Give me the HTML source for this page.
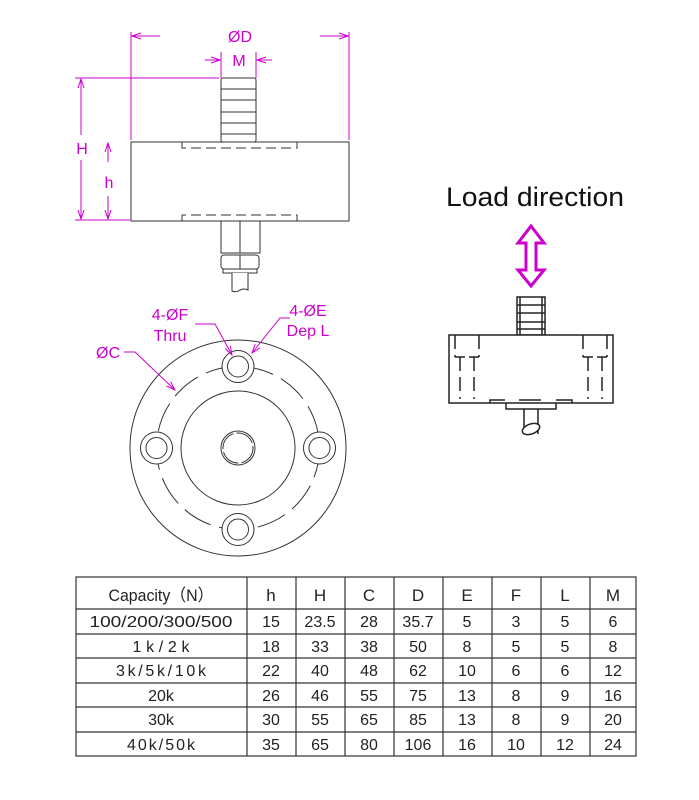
<!DOCTYPE html>
<html><head><meta charset="utf-8"><style>
html,body{margin:0;padding:0;background:#fff;}
svg{display:block;}
text{font-family:"Liberation Sans",Arial,sans-serif;}
</style></head><body>
<svg width="699" height="800" viewBox="0 0 699 800" xmlns="http://www.w3.org/2000/svg">
<defs>
<marker id="a" markerWidth="10" markerHeight="8" refX="9" refY="4" orient="auto" markerUnits="userSpaceOnUse"><path d="M0,1 L9,4 L0,7" fill="none" stroke="#c0c" stroke-width="1"/></marker>
</defs>
<g stroke="#c0c" stroke-width="1" fill="none">
<line x1="131" y1="32" x2="131" y2="140"/>
<line x1="349" y1="32" x2="349" y2="140"/>
<line x1="160" y1="36" x2="132" y2="36" marker-end="url(#a)"/>
<line x1="320" y1="36" x2="348" y2="36" marker-end="url(#a)"/>
<line x1="221" y1="52" x2="221" y2="78"/>
<line x1="256" y1="52" x2="256" y2="78"/>
<line x1="205" y1="60" x2="220" y2="60" marker-end="url(#a)"/>
<line x1="272" y1="60" x2="257" y2="60" marker-end="url(#a)"/>
<line x1="75" y1="78" x2="219" y2="78"/>
<line x1="75" y1="220" x2="130" y2="220"/>
<line x1="81" y1="135" x2="81" y2="79" marker-end="url(#a)"/>
<line x1="81" y1="160" x2="81" y2="219" marker-end="url(#a)"/>
<line x1="108" y1="162" x2="108" y2="143" marker-end="url(#a)"/>
<line x1="108" y1="196" x2="108" y2="219" marker-end="url(#a)"/>
</g>
<g fill="#c0c" font-size="16" text-anchor="middle">
<text x="240" y="42">ØD</text>
<text x="239" y="66">M</text>
<text x="82" y="154">H</text>
<text x="109" y="188">h</text>
</g>
<g stroke="#333" stroke-width="1" fill="#fff">
<rect x="221" y="78" width="35" height="64" rx="2"/>
<line x1="221" y1="89" x2="256" y2="89"/>
<line x1="221" y1="100" x2="256" y2="100"/>
<line x1="221" y1="112" x2="256" y2="112"/>
<line x1="221" y1="123" x2="256" y2="123"/>
<line x1="221" y1="134" x2="256" y2="134"/>
<rect x="131" y="142" width="218" height="79"/>
<path d="M182,142 v6 h115 v-6" stroke-dasharray="10,5" fill="none"/>
<path d="M182,221 v-6 h115 v6" stroke-dasharray="10,5" fill="none"/>
<rect x="221" y="221" width="39" height="32"/>
<line x1="240" y1="221" x2="240" y2="253"/>
<rect x="221" y="255" width="38" height="14" rx="3"/>
<line x1="240" y1="255" x2="240" y2="269"/>
<rect x="223" y="269" width="34" height="4"/>
<path d="M232,273 V291 q4,2 8,-1 q4,-2 8,0 V273" fill="#fff"/>
</g>
<g stroke="#333" stroke-width="1" fill="none">
<circle cx="238" cy="448" r="108"/>
<circle cx="238" cy="448" r="81.5" stroke-dasharray="30,9"/>
<circle cx="238" cy="448" r="57"/>
<circle cx="238" cy="448" r="17"/>
<circle cx="238" cy="448" r="15" stroke-dasharray="20,3"/>
<g fill="#fff">
<circle cx="238" cy="366.5" r="16"/><circle cx="238" cy="366.5" r="10.5"/>
<circle cx="238" cy="529.5" r="16"/><circle cx="238" cy="529.5" r="10.5"/>
<circle cx="156.5" cy="448" r="16"/><circle cx="156.5" cy="448" r="10.5"/>
<circle cx="319.5" cy="448" r="16"/><circle cx="319.5" cy="448" r="10.5"/>
</g>
</g>
<g stroke="#c0c" stroke-width="1" fill="none">
<path d="M124,352 H135 L175,390" marker-end="url(#a)"/>
<path d="M195,324 H215 L232,355" marker-end="url(#a)"/>
<path d="M290,318 H280 L252,353" marker-end="url(#a)"/>
</g>
<g fill="#c0c" font-size="16" text-anchor="middle">
<text x="170" y="320">4-ØF</text>
<text x="170" y="341">Thru</text>
<text x="308" y="316">4-ØE</text>
<text x="308" y="336">Dep L</text>
<text x="108" y="358">ØC</text>
</g>
<text x="535" y="206" font-size="27" text-anchor="middle" fill="#111" textLength="178" lengthAdjust="spacingAndGlyphs">Load direction</text>
<path d="M531,226 L544,243 H536 V270 H544 L531,286 L518,270 H526 V243 H518 Z" fill="none" stroke="#c0c" stroke-width="3" stroke-linejoin="miter"/>
<g stroke="#222" stroke-width="1.5" fill="none">
<rect x="517" y="297" width="28" height="38"/>
<line x1="520" y1="297" x2="520" y2="335"/><line x1="542" y1="297" x2="542" y2="335"/>
<line x1="517" y1="305" x2="545" y2="305"/><line x1="517" y1="313" x2="545" y2="313"/><line x1="517" y1="322" x2="545" y2="322"/><line x1="517" y1="329" x2="545" y2="329"/>
<rect x="449" y="335" width="164" height="68" fill="#fff"/>
<path d="M455,335 v22 M479,335 v22 M455,357 h10 M469,357 h10 M460,357 v42 M474,357 v42" stroke-dasharray="14,6"/>
<path d="M607,335 v22 M583,335 v22 M607,357 h-10 M593,357 h-10 M602,357 v42 M588,357 v42" stroke-dasharray="14,6"/>
<path d="M490,403 v-3 h15 M519,400 h22 M556,400 h16 v3"/>
<path d="M506,403 v6 h50 v-6"/>
<path d="M524,409 v25 M538,409 v25"/>
<ellipse cx="531" cy="429" rx="9" ry="5" transform="rotate(-20 531 429)" fill="#fff"/>
</g>
<g stroke="#333" stroke-width="1.2" fill="none">
<rect x="76" y="577" width="560" height="179"/>
<line x1="76" y1="609" x2="636" y2="609"/>
<line x1="76" y1="634" x2="636" y2="634"/>
<line x1="76" y1="658" x2="636" y2="658"/>
<line x1="76" y1="683" x2="636" y2="683"/>
<line x1="76" y1="707" x2="636" y2="707"/>
<line x1="76" y1="732" x2="636" y2="732"/>
<line x1="247" y1="577" x2="247" y2="756"/>
<line x1="296" y1="577" x2="296" y2="756"/>
<line x1="345" y1="577" x2="345" y2="756"/>
<line x1="394" y1="577" x2="394" y2="756"/>
<line x1="443" y1="577" x2="443" y2="756"/>
<line x1="492" y1="577" x2="492" y2="756"/>
<line x1="541" y1="577" x2="541" y2="756"/>
<line x1="590" y1="577" x2="590" y2="756"/>
</g>
<g font-size="17" fill="#222" text-anchor="middle">
<text x="161" y="601" textLength="105" lengthAdjust="spacingAndGlyphs">Capacity（N）</text><text x="271" y="601">h</text><text x="320" y="601">H</text><text x="369" y="601">C</text><text x="418" y="601">D</text><text x="467" y="601">E</text><text x="516" y="601">F</text><text x="565" y="601">L</text><text x="613" y="601">M</text>
<g font-size="16">
<text x="161" y="627" textLength="143" lengthAdjust="spacingAndGlyphs">100/200/300/500</text><text x="271" y="627">15</text><text x="320" y="627">23.5</text><text x="369" y="627">28</text><text x="418" y="627">35.7</text><text x="467" y="627">5</text><text x="516" y="627">3</text><text x="565" y="627">5</text><text x="613" y="627">6</text>
<text x="161" y="652" textLength="57">1k/2k</text><text x="271" y="652">18</text><text x="320" y="652">33</text><text x="369" y="652">38</text><text x="418" y="652">50</text><text x="467" y="652">8</text><text x="516" y="652">5</text><text x="565" y="652">5</text><text x="613" y="652">8</text>
<text x="161" y="676" textLength="90">3k/5k/10k</text><text x="271" y="676">22</text><text x="320" y="676">40</text><text x="369" y="676">48</text><text x="418" y="676">62</text><text x="467" y="676">10</text><text x="516" y="676">6</text><text x="565" y="676">6</text><text x="613" y="676">12</text>
<text x="161" y="701">20k</text><text x="271" y="701">26</text><text x="320" y="701">46</text><text x="369" y="701">55</text><text x="418" y="701">75</text><text x="467" y="701">13</text><text x="516" y="701">8</text><text x="565" y="701">9</text><text x="613" y="701">16</text>
<text x="161" y="725">30k</text><text x="271" y="725">30</text><text x="320" y="725">55</text><text x="369" y="725">65</text><text x="418" y="725">85</text><text x="467" y="725">13</text><text x="516" y="725">8</text><text x="565" y="725">9</text><text x="613" y="725">20</text>
<text x="161" y="750" textLength="68">40k/50k</text><text x="271" y="750">35</text><text x="320" y="750">65</text><text x="369" y="750">80</text><text x="418" y="750">106</text><text x="467" y="750">16</text><text x="516" y="750">10</text><text x="565" y="750">12</text><text x="613" y="750">24</text>
</g>
</g>
</svg>
</body></html>
